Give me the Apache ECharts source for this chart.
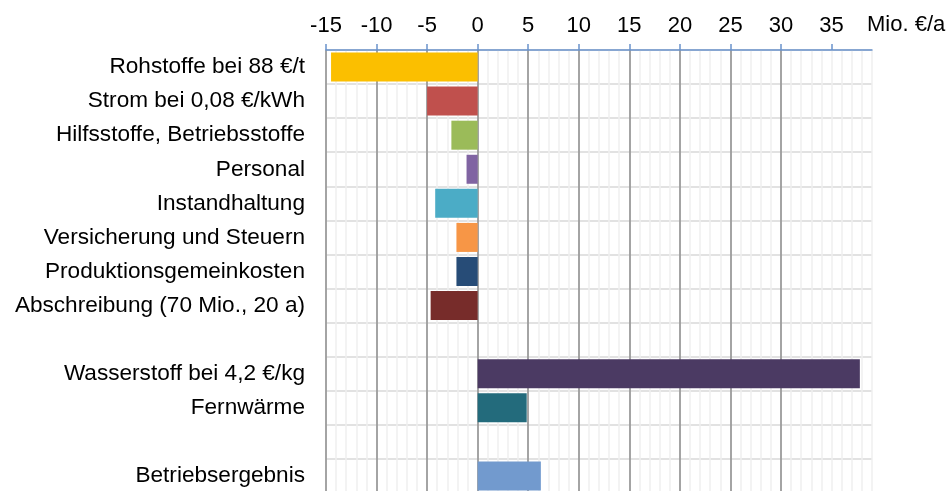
<!DOCTYPE html>
<html>
<head>
<meta charset="utf-8">
<script src="https://cdn.jsdelivr.net/npm/echarts@6/dist/echarts.min.js"></script>
<style>
  html, body { margin: 0; padding: 0; background: #fff; }
  #graph { width: 949px; height: 491px; }
</style>
</head>
<body>
<div id="graph"></div>
<script>
// categories top to bottom (blank rows are spacers)
var categories = [
    'Rohstoffe bei 88 €/t',
    'Strom bei 0,08 €/kWh',
    'Hilfsstoffe, Betriebsstoffe',
    'Personal',
    'Instandhaltung',
    'Versicherung und Steuern',
    'Produktionsgemeinkosten',
    'Abschreibung (70 Mio., 20 a)',
    ' ',
    'Wasserstoff bei 4,2 €/kg',
    'Fernwärme',
    '  ',
    'Betriebsergebnis'
];
// Mio. €/a
var values = [-14.5, -5.0, -2.6, -1.1, -4.2, -2.1, -2.1, -4.65, null, 37.8, 4.85, null, 6.25];
var colors = ['#FBBF00', '#C0504D', '#9BBB59', '#8064A2', '#4BACC6', '#F79646', '#274C77',
    '#772C2A', '#ffffff', '#4B3A63', '#236B7C', '#ffffff', '#729ACE'];
var tickLabels = [-15, -10, -5, 0, 5, 10, 15, 20, 25, 30, 35];
var axisUnit = 'Mio. €/a';

var xMin = -15, xMax = 39;
var font = 'Liberation Sans, Arial, sans-serif';

var dom = document.getElementById('graph');
var myChart = echarts.init(dom);

var barData = [];
for (var i = 0; i < values.length; i++) {
    barData.push({ value: values[i], itemStyle: { color: colors[i] } });
}

var option = {
    animation: false,
    grid: {
        left: 326,
        right: 77,
        top: 50,
        bottom: -2,
        containLabel: false,
        outerBoundsMode: 'none'
    },
    graphic: [
        {
            // unit label right of the axis
            type: 'text',
            left: 867,
            top: 14,
            style: { text: axisUnit, font: '22px ' + font, fill: '#000' }
        }
    ],
    xAxis: [
        {
            // minor grid, every 1
            type: 'value',
            position: 'top',
            min: xMin,
            max: xMax,
            interval: 1,
            axisLine: { show: false },
            axisTick: { show: false },
            axisLabel: { show: false },
            splitLine: { show: true, lineStyle: { color: '#efefef', width: 1.5 } }
        },
        {
            type: 'value',
            position: 'top',
            min: xMin,
            max: xMax,
            interval: 5,
            axisLine: { show: true, lineStyle: { color: '#6A93CC', width: 1.5 } },
            axisTick: { show: true, length: 6, customValues: tickLabels, lineStyle: { color: '#6A93CC', width: 1.5 } },
            axisLabel: {
                customValues: tickLabels,
                margin: 13,
                fontFamily: font,
                fontSize: 22,
                color: '#000'
            },
            splitLine: { show: true, showMaxLine: false, lineStyle: { color: '#8a8a8a', width: 1.5 } }
        }
    ],
    yAxis: {
        type: 'category',
        inverse: true,
        data: categories,
        axisLine: { show: false },
        axisTick: { show: false },
        axisLabel: {
            margin: 21,
            fontFamily: font,
            fontSize: 22.6,
            color: '#000'
        },
        splitLine: { show: true, lineStyle: { color: '#d9d9d9', width: 1.5 } }
    },
    series: [
        {
            type: 'bar',
            xAxisIndex: 1,
            data: barData,
            barWidth: 29
        }
    ]
};
if (option && typeof option === 'object') {
    myChart.setOption(option, true);
}
</script>
</body>
</html>
